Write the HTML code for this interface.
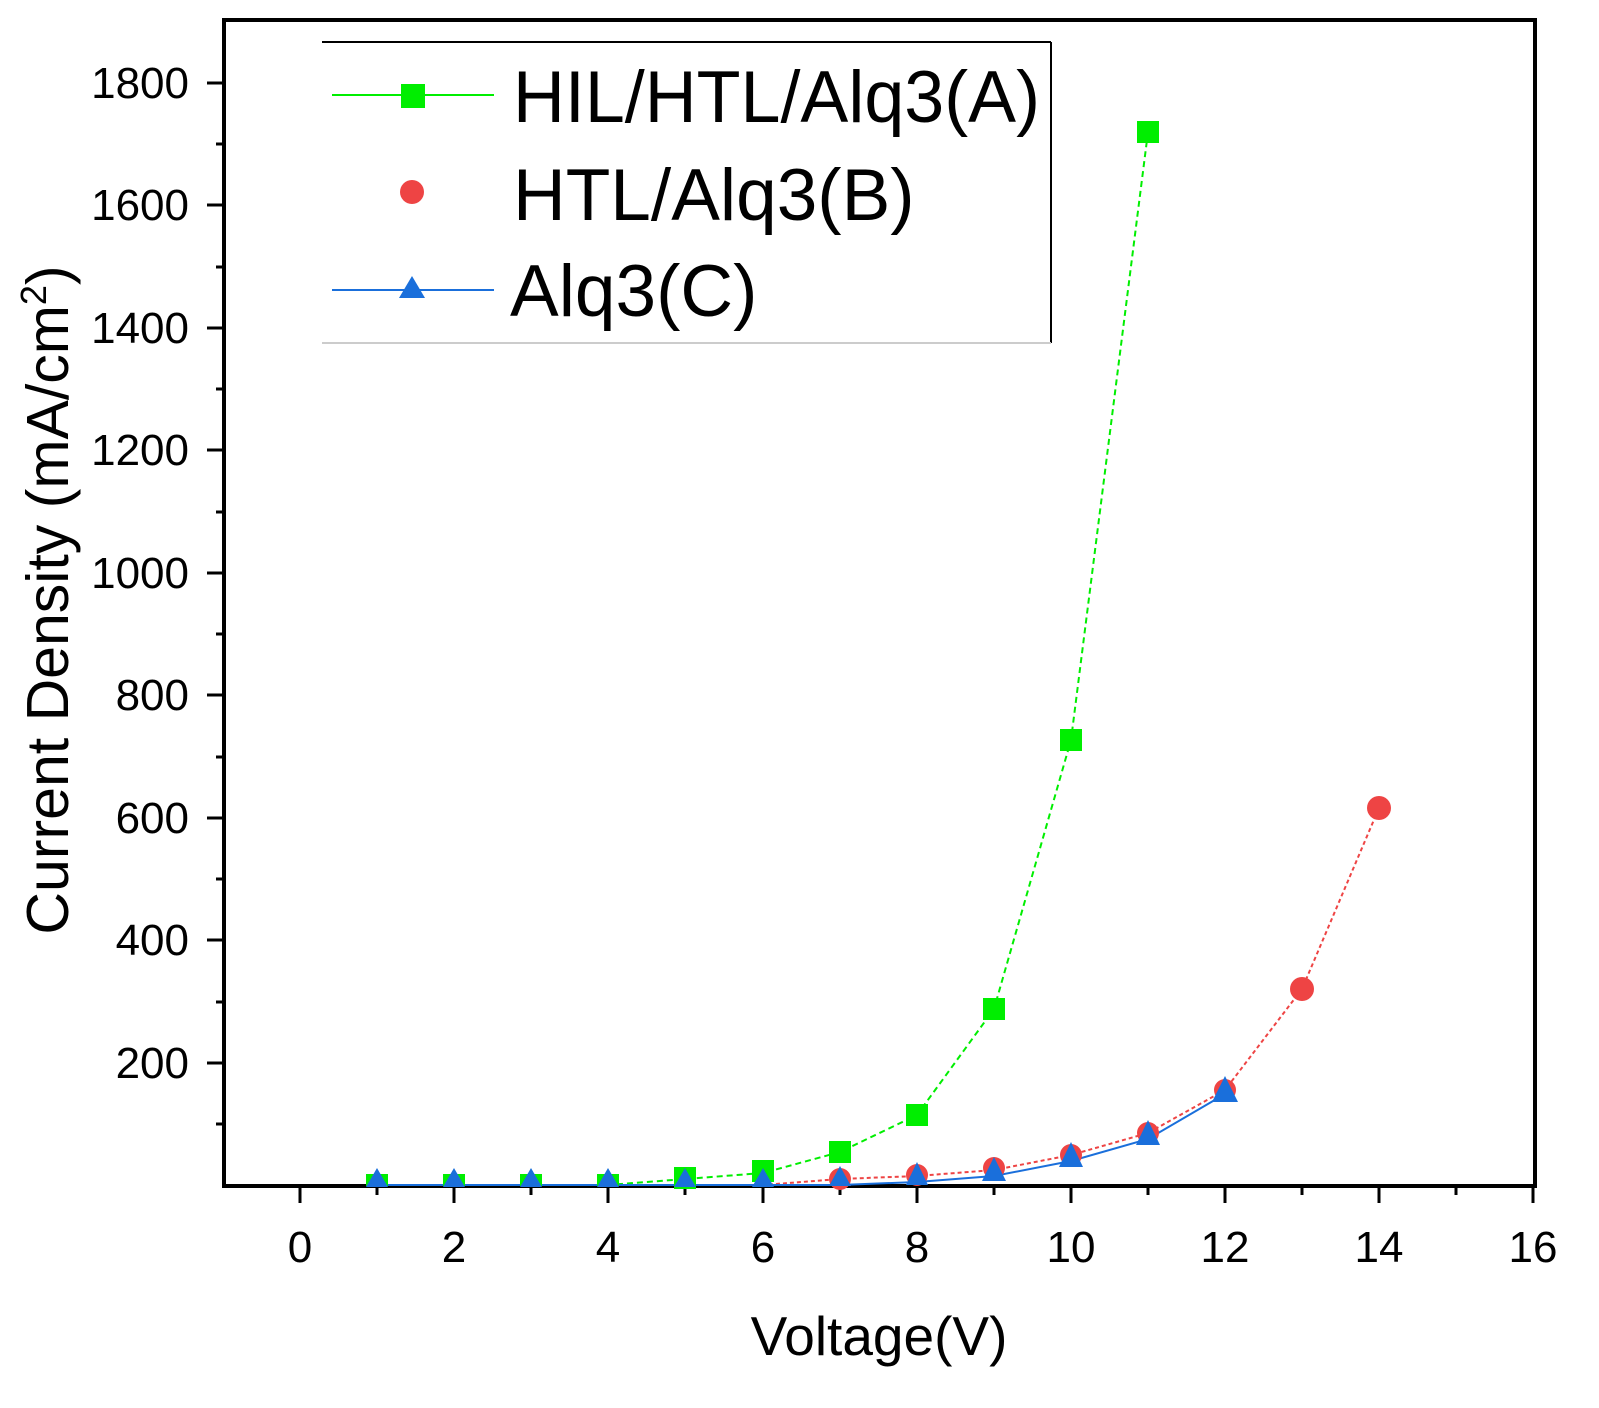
<!DOCTYPE html>
<html><head><meta charset="utf-8"><style>body{margin:0;background:#fff}svg{display:block}</style></head><body>
<svg width="1599" height="1408" viewBox="0 0 1599 1408" xmlns="http://www.w3.org/2000/svg" font-family="Liberation Sans, sans-serif">
<rect width="1599" height="1408" fill="#fff"/>
<g stroke="#000" stroke-width="4" fill="none">
<rect x="224" y="20" width="1311" height="1166"/>
</g>
<g stroke="#000" stroke-width="3">
<line x1="300" y1="1186" x2="300" y2="1203"/><line x1="454" y1="1186" x2="454" y2="1203"/><line x1="608" y1="1186" x2="608" y2="1203"/><line x1="763" y1="1186" x2="763" y2="1203"/><line x1="917" y1="1186" x2="917" y2="1203"/><line x1="1071" y1="1186" x2="1071" y2="1203"/><line x1="1225" y1="1186" x2="1225" y2="1203"/><line x1="1379" y1="1186" x2="1379" y2="1203"/><line x1="1533" y1="1186" x2="1533" y2="1203"/>
<line x1="377" y1="1186" x2="377" y2="1195"/><line x1="531" y1="1186" x2="531" y2="1195"/><line x1="685" y1="1186" x2="685" y2="1195"/><line x1="840" y1="1186" x2="840" y2="1195"/><line x1="994" y1="1186" x2="994" y2="1195"/><line x1="1148" y1="1186" x2="1148" y2="1195"/><line x1="1302" y1="1186" x2="1302" y2="1195"/><line x1="1456" y1="1186" x2="1456" y2="1195"/>
<line x1="207" y1="1063" x2="224" y2="1063"/><line x1="207" y1="940" x2="224" y2="940"/><line x1="207" y1="818" x2="224" y2="818"/><line x1="207" y1="695" x2="224" y2="695"/><line x1="207" y1="573" x2="224" y2="573"/><line x1="207" y1="450" x2="224" y2="450"/><line x1="207" y1="328" x2="224" y2="328"/><line x1="207" y1="205" x2="224" y2="205"/><line x1="207" y1="83" x2="224" y2="83"/>
<line x1="216" y1="1124" x2="224" y2="1124"/><line x1="216" y1="1002" x2="224" y2="1002"/><line x1="216" y1="879" x2="224" y2="879"/><line x1="216" y1="757" x2="224" y2="757"/><line x1="216" y1="634" x2="224" y2="634"/><line x1="216" y1="512" x2="224" y2="512"/><line x1="216" y1="389" x2="224" y2="389"/><line x1="216" y1="267" x2="224" y2="267"/><line x1="216" y1="144" x2="224" y2="144"/>
</g>
<g font-size="44" text-anchor="middle" fill="#000">
<text x="300" y="1262">0</text><text x="454" y="1262">2</text><text x="608" y="1262">4</text><text x="763" y="1262">6</text><text x="917" y="1262">8</text><text x="1071" y="1262">10</text><text x="1225" y="1262">12</text><text x="1379" y="1262">14</text><text x="1533" y="1262">16</text>
</g>
<g font-size="44" text-anchor="end" fill="#000">
<text x="189" y="1078">200</text><text x="189" y="955">400</text><text x="189" y="833">600</text><text x="189" y="710">800</text><text x="189" y="588">1000</text><text x="189" y="465">1200</text><text x="189" y="343">1400</text><text x="189" y="220">1600</text><text x="189" y="98">1800</text>
</g>
<text x="879" y="1355" font-size="55" text-anchor="middle">Voltage(V)</text>
<text transform="translate(68,600) rotate(-90)" font-size="59" text-anchor="middle">Current Density (mA/cm<tspan dy="-22" font-size="36">2</tspan><tspan dy="22">)</tspan></text>
<polyline fill="none" stroke="#00ee00" stroke-width="2" stroke-dasharray="6,4" points="377,1185 454,1185 531,1185 608,1185 685,1179 763,1173 840,1152 917,1115 994,1009 1071,740 1148,132"/>
<polyline fill="none" stroke="#ee4444" stroke-width="2" stroke-dasharray="4,3" points="377,1185 454,1185 531,1185 608,1185 685,1185 763,1185 840,1179 917,1176 994,1170 1071,1155 1148,1133 1225,1090 1302,989 1379,808"/>
<polyline fill="none" stroke="#1a6fdb" stroke-width="2" points="377,1185 454,1185 531,1185 608,1185 685,1185 763,1185 840,1185 917,1182 994,1176 1071,1161 1148,1139 1225,1094"/>
<g fill="#00ee00">
<rect x="674" y="1167" width="22" height="22"/><rect x="752" y="1160" width="22" height="22"/><rect x="829" y="1141" width="22" height="22"/><rect x="906" y="1104" width="22" height="22"/><rect x="983" y="998" width="22" height="22"/><rect x="1060" y="729" width="22" height="22"/><rect x="1137" y="121" width="22" height="22"/>
<rect x="366" y="1174" width="22" height="12"/><rect x="443" y="1174" width="22" height="12"/><rect x="520" y="1174" width="22" height="12"/><rect x="597" y="1174" width="22" height="12"/>
</g>
<g fill="#ee4444">
<circle cx="840" cy="1179" r="11"/><circle cx="917" cy="1175" r="11"/><circle cx="994" cy="1168" r="11"/><circle cx="1071" cy="1155" r="11"/><circle cx="1148" cy="1133" r="11"/><circle cx="1225" cy="1090" r="11"/><circle cx="1302" cy="989" r="12"/><circle cx="1379" cy="808" r="12"/>
</g>
<g fill="#1a6fdb">
<polygon points="377,1168 366,1187 388,1187"/><polygon points="454,1168 443,1187 465,1187"/><polygon points="531,1168 520,1187 542,1187"/><polygon points="608,1168 597,1187 619,1187"/><polygon points="685,1168 674,1187 696,1187"/><polygon points="763,1168 752,1187 774,1187"/><polygon points="840,1166 829,1186 851,1186"/><polygon points="917,1162 906,1185 928,1185"/><polygon points="994,1157 982,1181 1006,1181"/><polygon points="1071,1142 1059,1167 1083,1167"/><polygon points="1148,1120 1136,1145 1160,1145"/><polygon points="1225,1076 1212,1102 1238,1102"/>
</g>
<g stroke="#000" stroke-width="2"><line x1="322" y1="42" x2="1051" y2="42"/><line x1="1051" y1="42" x2="1051" y2="343"/></g>
<line x1="322" y1="343" x2="1051" y2="343" stroke="#ccc" stroke-width="2"/>
<line x1="332" y1="95" x2="494" y2="95" stroke="#00ee00" stroke-width="2"/>
<rect x="401" y="84" width="24" height="24" fill="#00ee00"/>
<circle cx="412" cy="192" r="12" fill="#ee4444"/>
<line x1="332" y1="290" x2="494" y2="290" stroke="#1a6fdb" stroke-width="2"/>
<polygon points="412,276 399,298 425,298" fill="#1a6fdb"/>
<g font-size="73" fill="#000">
<text x="513" y="122" textLength="527" lengthAdjust="spacingAndGlyphs">HIL/HTL/Alq3(A)</text><text x="513" y="220">HTL/Alq3(B)</text><text x="510" y="316">Alq3(C)</text>
</g>
</svg>
</body></html>
